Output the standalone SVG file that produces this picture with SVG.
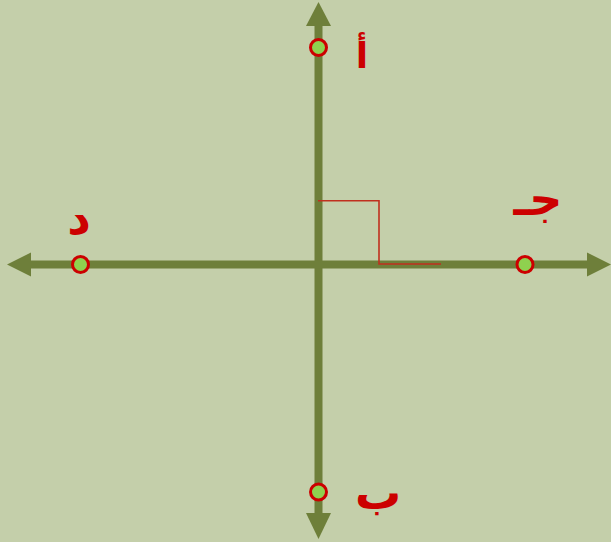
<svg xmlns="http://www.w3.org/2000/svg" width="611" height="542" viewBox="0 0 611 542">
<style>
.axis{stroke:#6E7F3A;stroke-width:8;fill:none}
.head{fill:#6E7F3A}
.pt{fill:#8FD14F;stroke:#CC0000;stroke-width:3}
.lbl{fill:#CC0000;font-family:"DejaVu Sans",sans-serif;font-weight:bold;font-size:46px;text-anchor:middle}
.ra{stroke:#C0301E;stroke-width:1.6;fill:none}
</style>
<rect width="611" height="542" fill="#C4CFAA"/>
<g id="connectors">
<line class="axis" x1="318.5" y1="24" x2="318.5" y2="515"/>
<line class="axis" x1="29" y1="264.5" x2="589" y2="264.5"/>
<polygon class="head" points="318.5,2 331,26 306,26"/>
<polygon class="head" points="318.5,539 331,513 306,513"/>
<polygon class="head" points="7,264.5 31,252.5 31,276.5"/>
<polygon class="head" points="611,264.5 587,252.5 587,276.5"/>
<polyline class="ra" points="318,200.7 379,200.7 379,264 441,264"/>
</g>
<g id="node-a"><circle class="pt" cx="318.5" cy="47.5" r="8"/><text class="lbl" x="362" y="68" style="font-size:36px">أ</text></g>
<g id="node-b"><circle class="pt" cx="318.5" cy="492" r="8"/><text class="lbl" x="378" y="509">ب</text></g>
<g id="node-j"><circle class="pt" cx="525" cy="264.5" r="8"/><text class="lbl" x="538" y="215">جـ</text></g>
<g id="node-d"><circle class="pt" cx="80.5" cy="264.5" r="8"/><text class="lbl" x="79" y="234">د</text></g>
</svg>
